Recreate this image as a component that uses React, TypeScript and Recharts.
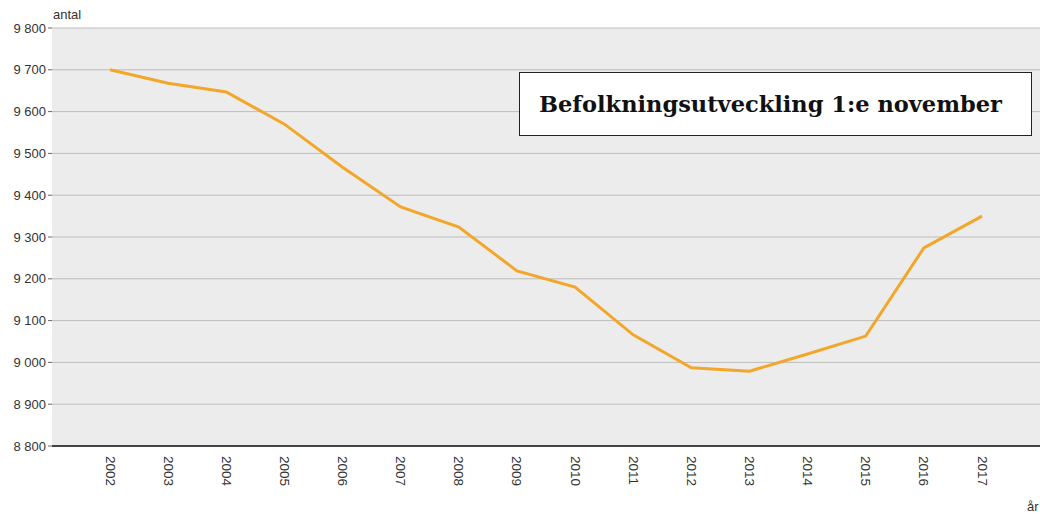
import { LineChart, Line, XAxis, YAxis, CartesianGrid } from 'recharts'

const years = ['2002', '2003', '2004', '2005', '2006', '2007', '2008', '2009', '2010', '2011', '2012', '2013', '2014', '2015', '2016', '2017']
const population = [9700, 9668, 9647, 9570, 9467, 9372, 9324, 9219, 9180, 9066, 8987, 8979, 9020, 9063, 9274, 9350]
const yTicks = [8800, 8900, 9000, 9100, 9200, 9300, 9400, 9500, 9600, 9700, 9800]

const data = years.map((year, i) => ({ year, value: population[i] }))

const fmt = (v: number) => v.toLocaleString('en-US').replace(',', ' ')

const font = 'Arial, "Liberation Sans", sans-serif'

function YearTick({ x, y, payload }: any) {
  return (
    <text
      x={0}
      y={0}
      transform={`translate(${x},${y + 2}) rotate(90)`}
      textAnchor="start"
      dominantBaseline="central"
      fontSize={13.5}
      fontFamily={font}
      fill="#333"
    >
      {payload.value}
    </text>
  )
}

export default function App() {
  return (
    <div style={{ position: 'relative', width: 1040, height: 516, background: '#fff', overflow: 'hidden' }}>
      <style>{'body{margin:0}'}</style>
      <LineChart width={1040} height={516} data={data} margin={{ top: 28, right: 0, bottom: 0, left: 0 }}>
        <CartesianGrid vertical={false} stroke="#bdbdbd" fill="#ececec" />
        <XAxis
          dataKey="year"
          padding={{ left: 58, right: 58 }}
          height={70}
          tick={<YearTick />}
          tickLine={false}
          axisLine={{ stroke: '#444', strokeWidth: 2 }}
          interval={0}
        />
        <YAxis
          domain={[8800, 9800]}
          ticks={yTicks}
          width={52}
          tickFormatter={fmt}
          axisLine={false}
          tickLine={{ stroke: '#666' }}
          tickSize={4}
          tick={{ fontSize: 13, fill: '#333', fontFamily: font }}
        />
        <Line
          type="linear"
          dataKey="value"
          stroke="#f2a62a"
          strokeWidth={3}
          dot={false}
          isAnimationActive={false}
        />
      </LineChart>
      <div style={{ position: 'absolute', left: 53, top: 7, fontSize: 13, fontFamily: font, color: '#333' }}>antal</div>
      <div style={{ position: 'absolute', left: 1027, top: 499, fontSize: 13, fontFamily: font, color: '#333' }}>år</div>
      <div
        style={{
          position: 'absolute',
          left: 519,
          top: 72,
          width: 513,
          height: 64,
          background: '#fff',
          border: '1px solid #222',
          display: 'flex',
          alignItems: 'center',
          paddingLeft: 19,
          boxSizing: 'border-box',
          fontFamily: '"DejaVu Serif", "Liberation Serif", serif',
          fontWeight: 'bold',
          fontSize: 22.5,
          color: '#111',
        }}
      >
        Befolkningsutveckling 1:e november
      </div>
    </div>
  )
}
